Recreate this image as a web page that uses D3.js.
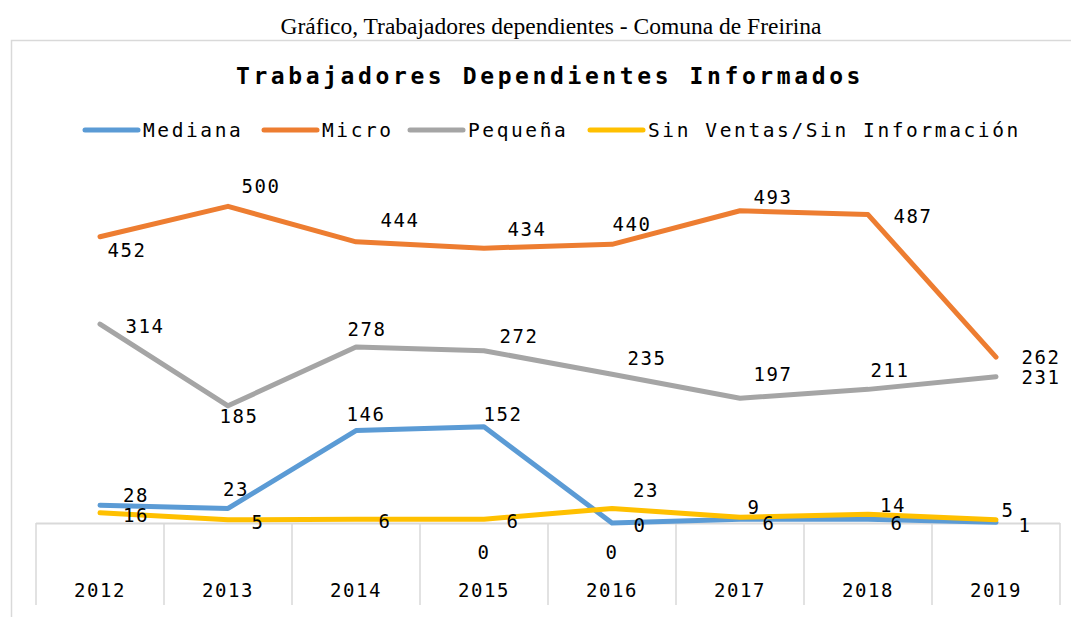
<!DOCTYPE html>
<html>
<head>
<meta charset="utf-8">
<script src="https://cdn.jsdelivr.net/npm/d3@7"></script>
<style>
  body { margin: 0; background: #fff; }
  text { font-family: "DejaVu Sans Mono", monospace; }
</style>
</head>
<body>
<div id="chart"></div>
<script>
// data
var years = ["2012", "2013", "2014", "2015", "2016", "2017", "2018", "2019"];
var mediana = [28, 23, 146, 152, 0, 6, 6, 1];
var micro = [452, 500, 444, 434, 440, 493, 487, 262];
var pequena = [314, 185, 278, 272, 235, 197, 211, 231];
var sinVentas = [16, 5, 6, 6, 23, 9, 14, 5];
// series with no line, only its "0" labels shows up under the axis
var sinLinea = [null, null, null, 0, 0, null, null, null];

var seriesNames = ["Mediana", "Micro", "Pequeña", "Sin Ventas/Sin Información"];
var colors = ["#5B9BD5", "#ED7D31", "#A5A5A5", "#FFC000"];

// where each data label sits relative to its point [dx, dy]
var offMediana = [[36,-10],[8,-19],[10,-17],[19,-13],[28,2],[29,4],[29,4],[29,3]];
var offMicro = [[27,13],[33,-20],[44,-22],[43,-19],[20,-20],[33,-14],[45,1],[45,0]];
var offPequena = [[45,2],[11,10],[11,-18],[35,-15],[35,-16],[33,-24],[22,-19],[45,0]];
var offSinVentas = [[36,2],[30,2],[29,2],[29,2],[34,-18],[14,-10],[25,-9],[12,-10]];
var offSinLinea = [0, 0, 0, [0,29], [0,29], 0, 0, 0];

var W = 1071, H = 617;
var svg = d3.select('#chart')
    .append('svg')
    .attr('width', W)
    .attr('height', H);

// caption above the chart box
svg.append('text')
    .attr('x', 551)
    .attr('y', 34)
    .attr('text-anchor', 'middle')
    .style('font-family', '"Liberation Serif", "Times New Roman", serif')
    .style('font-size', '23.5px')
    .text('Gráfico, Trabajadores dependientes - Comuna de Freirina');

// chart box border (only left and top visible)
svg.append('path')
    .attr('d', 'M11.5,' + H + 'V40.5H' + W)
    .attr('fill', 'none')
    .attr('stroke', '#d9d9d9')
    .attr('stroke-width', 1.5);

svg.append('text')
    .attr('x', 550)
    .attr('y', 84)
    .attr('text-anchor', 'middle')
    .style('font-size', '23px')
    .style('font-weight', 'bold')
    .style('letter-spacing', '3.6px')
    .text('Trabajadores Dependientes Informados');

// legend
var legendX = [83, 262, 408, 588];
var legend = svg.selectAll('.legend')
    .data(seriesNames)
    .enter()
    .append('g')
    .attr('class', 'legend')
    .attr('transform', function(d, i){ return 'translate(' + legendX[i] + ',130)'; });

legend.append('line')
    .attr('x1', 2).attr('x2', 55)
    .attr('y1', 0).attr('y2', 0)
    .attr('stroke', function(d, i){ return colors[i]; })
    .attr('stroke-width', 5)
    .attr('stroke-linecap', 'round');

legend.append('text')
    .attr('x', 60)
    .attr('y', 7)
    .style('font-size', '19.5px')
    .style('letter-spacing', '2.6px')
    .text(function(d){ return d; });

// scales
var x = d3.scaleBand().domain(years).range([36, 1060]);
var y = d3.scaleLinear().domain([0, 600]).range([523, 143]);

// category axis: baseline + boundary ticks
svg.append('line')
    .attr('x1', x.range()[0]).attr('x2', x.range()[1])
    .attr('y1', y(0) + 0.5).attr('y2', y(0) + 0.5)
    .attr('stroke', '#d9d9d9')
    .attr('stroke-width', 2);

var bounds = years.map(function(d){ return x(d); }).concat([x.range()[1]]);
svg.selectAll('.tick')
    .data(bounds)
    .enter()
    .append('line')
    .attr('x1', function(d){ return d; })
    .attr('x2', function(d){ return d; })
    .attr('y1', y(0))
    .attr('y2', 605)
    .attr('stroke', '#d9d9d9')
    .attr('stroke-width', 1.5);

svg.selectAll('.year')
    .data(years)
    .enter()
    .append('text')
    .attr('x', function(d){ return x(d) + x.bandwidth() / 2; })
    .attr('y', 597)
    .attr('text-anchor', 'middle')
    .style('font-size', '19px')
    .style('letter-spacing', '1.5px')
    .text(function(d){ return d; });

var allSeries = [
    {values: mediana, color: colors[0], off: offMediana},
    {values: micro, color: colors[1], off: offMicro},
    {values: pequena, color: colors[2], off: offPequena},
    {values: sinVentas, color: colors[3], off: offSinVentas}
];

var line = d3.line()
    .x(function(d, i){ return x(years[i]) + x.bandwidth() / 2; })
    .y(function(d){ return y(d); });

svg.selectAll('.serie')
    .data(allSeries)
    .enter()
    .append('path')
    .attr('d', function(d){ return line(d.values); })
    .attr('fill', 'none')
    .attr('stroke', function(d){ return d.color; })
    .attr('stroke-width', 5)
    .attr('stroke-linejoin', 'round')
    .attr('stroke-linecap', 'round');

// data labels
var labels = [];
allSeries.concat([{values: sinLinea, off: offSinLinea}]).forEach(function(s){
    s.values.forEach(function(v, i){
        if (v === null) return;
        labels.push({
            v: v,
            x: x(years[i]) + x.bandwidth() / 2 + s.off[i][0],
            y: y(v) + s.off[i][1]
        });
    });
});

svg.selectAll('.lbl')
    .data(labels)
    .enter()
    .append('text')
    .attr('x', function(d){ return d.x; })
    .attr('y', function(d){ return d.y + 7; })
    .attr('text-anchor', 'middle')
    .style('font-size', '19px')
    .style('letter-spacing', '1.5px')
    .text(function(d){ return d.v; });
</script>
</body>
</html>
